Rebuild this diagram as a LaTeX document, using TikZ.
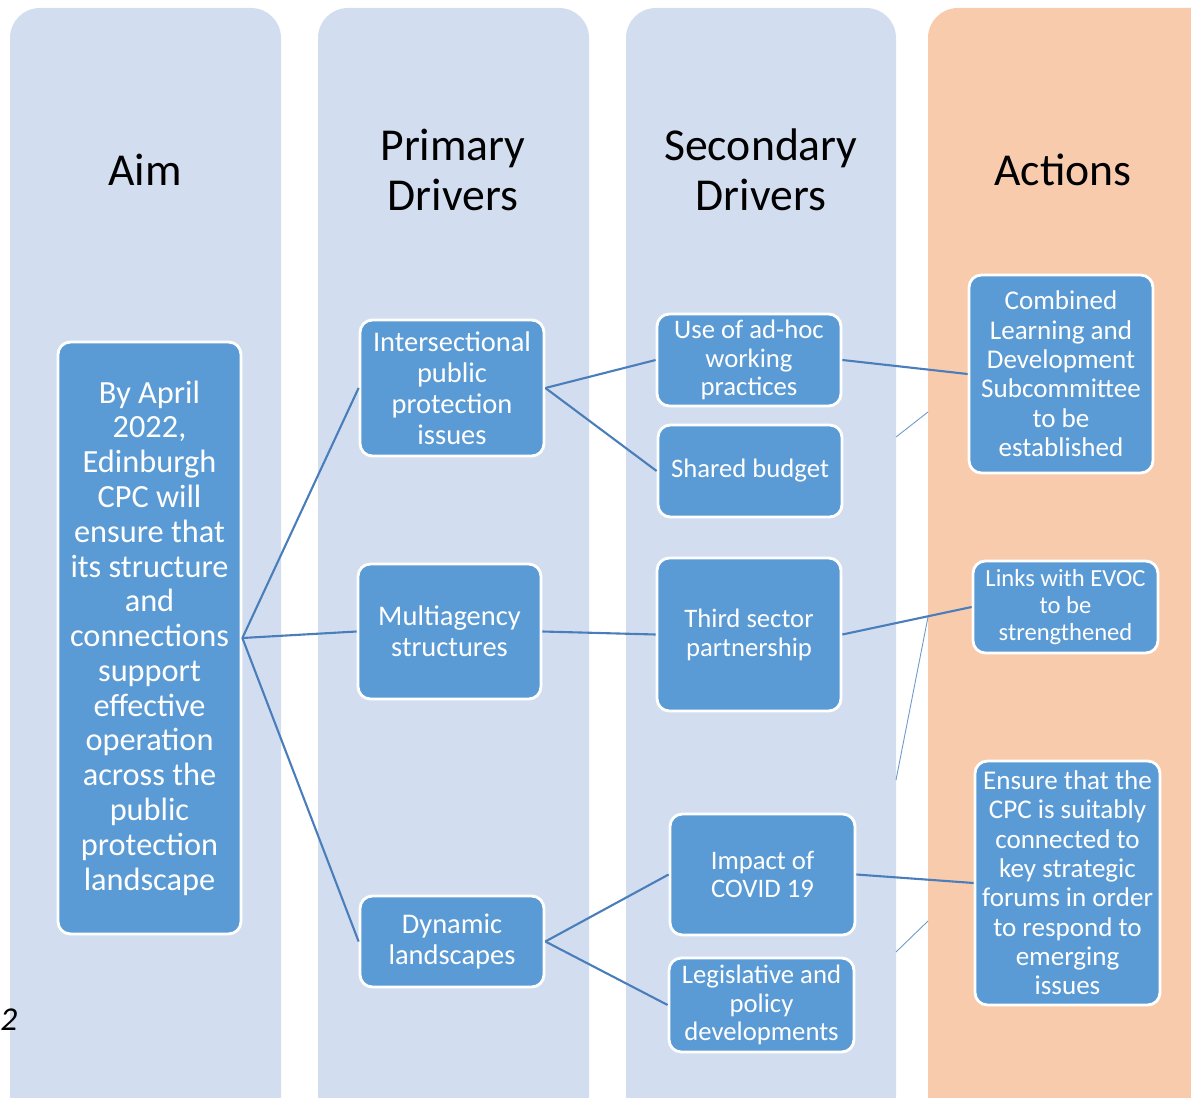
\documentclass[tikz,border=0pt]{standalone}
\usepackage{fontspec}
\setmainfont{Carlito}
\definecolor{colblue}{RGB}{210,222,239}
\definecolor{colpeach}{RGB}{248,203,173}
\definecolor{boxblue}{RGB}{91,155,213}
\definecolor{linkblue}{RGB}{74,126,187}
\tikzset{
  box/.style={draw=white, line width=1.6pt, fill=boxblue, rounded corners=7pt,
    text=white, align=center, inner sep=0pt},
  link/.style={draw=linkblue, line width=1.2pt},
  heading/.style={align=center, font=\fontsize{26}{28.3}\selectfont}
}
\begin{document}
\begin{tikzpicture}[x=0.02cm, y=-0.02cm]
  \clip (0,0) rectangle (1191,1098);
  % columns
  \fill[colblue, rounded corners=17pt] (10,8) rectangle (281,1130);
  \fill[colblue, rounded corners=17pt] (318,8) rectangle (589,1130);
  \fill[colblue, rounded corners=17pt] (626,8) rectangle (896,1130);
  \fill[colpeach, rounded corners=17pt] (928,8) rectangle (1230,1130);
  \node[anchor=west, inner sep=0pt, font=\fontsize{19}{20}\selectfont\itshape] (pagenum) at (0,1020) {2};
  % stray line ends between the columns
  \coordinate (s1a) at (896,437); \coordinate (s1b) at (928,412);
  \coordinate (s2a) at (896,780); \coordinate (s2b) at (928,617);
  \coordinate (s3a) at (896,952); \coordinate (s3b) at (928,921);
  \draw[linkblue!80, line width=0.5pt] (s1a) -- (s1b) (s2a) -- (s2b) (s3a) -- (s3b);
  % headings
  \node[heading] (aimhead) at (145,170) {Aim};
  \node[heading] (primhead) at (453,170) {Primary\\Drivers};
  \node[heading] (sechead) at (761,170) {Secondary\\Drivers};
  \node[heading] (acthead) at (1063,170) {Actions};
  % aim
  \node[box, minimum width=3.66cm, minimum height=11.84cm, font=\fontsize{18.4}{19.8}\selectfont]
    (aim) at (149.5,638) {By April\\2022,\\Edinburgh\\CPC will\\ensure that\\its structure\\and\\connections\\support\\effective\\operation\\across the\\public\\protection\\landscape};
  % primary drivers
  \begin{scope}[every node/.append style={font=\fontsize{16.2}{17.6}\selectfont}]
    \node[box, minimum width=3.68cm, minimum height=2.72cm] (inter) at (452,388) {Intersectional\\public\\protection\\issues};
    \node[box, minimum width=3.66cm, minimum height=2.70cm] (multi) at (449.5,631.5) {Multiagency\\structures};
    \node[box, minimum width=3.68cm, minimum height=1.82cm] (dyn) at (452,941.5) {Dynamic\\landscapes};
  \end{scope}
  % secondary drivers
  \begin{scope}[every node/.append style={font=\fontsize{15.2}{16.4}\selectfont}]
    \node[box, minimum width=3.68cm, minimum height=1.84cm] (adhoc) at (749,360) {Use of ad-hoc\\working\\practices};
    \node[box, minimum width=3.68cm, minimum height=1.84cm] (budget) at (750,471) {Shared budget};
    \node[box, minimum width=3.68cm, minimum height=3.06cm] (third) at (749,634.5) {Third sector\\partnership};
    \node[box, minimum width=3.70cm, minimum height=2.42cm] (covid) at (762.5,874.5) {Impact of\\COVID 19};
    \node[box, minimum width=3.70cm, minimum height=1.88cm] (legis) at (761.5,1005) {Legislative and\\policy\\developments};
  \end{scope}
  % actions
  \node[box, minimum width=3.68cm, minimum height=3.96cm, font=\fontsize{15.4}{16.7}\selectfont]
    (learn) at (1061,374) {Combined\\Learning and\\Development\\Subcommittee\\to be\\established};
  \node[box, minimum width=3.70cm, minimum height=1.84cm, font=\fontsize{14}{15.3}\selectfont]
    (evoc) at (1065.5,607) {Links with EVOC\\to be\\strengthened};
  \node[box, minimum width=3.70cm, minimum height=4.88cm, font=\fontsize{15.4}{16.7}\selectfont]
    (forums) at (1067.5,883) {Ensure that the\\CPC is suitably\\connected to\\key strategic\\forums in order\\to respond to\\emerging\\issues};
  % connectors
  \draw[link] (aim.east) -- (inter.west);
  \draw[link] (aim.east) -- (multi.west);
  \draw[link] (aim.east) -- (dyn.west);
  \draw[link] (inter.east) -- (adhoc.west);
  \draw[link] (inter.east) -- (budget.west);
  \draw[link] (multi.east) -- (third.west);
  \draw[link] (dyn.east) -- (covid.west);
  \draw[link] (dyn.east) -- (legis.west);
  \draw[link] (adhoc.east) -- (learn.west);
  \draw[link] (third.east) -- (evoc.west);
  \draw[link] (covid.east) -- (forums.west);
\end{tikzpicture}
\end{document}
